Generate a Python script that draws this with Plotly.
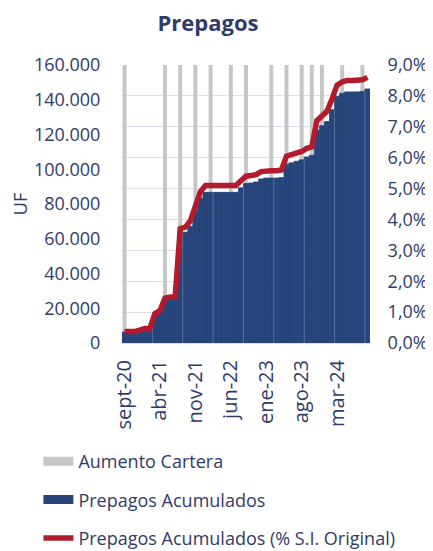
import plotly.graph_objects as go

# ---------------- data ----------------
months = [
    "sept-20", "oct-20", "nov-20", "dic-20", "ene-21", "feb-21", "mar-21", "abr-21",
    "may-21", "jun-21", "jul-21", "ago-21", "sept-21", "oct-21", "nov-21", "dic-21",
    "ene-22", "feb-22", "mar-22", "abr-22", "may-22", "jun-22", "jul-22", "ago-22",
    "sept-22", "oct-22", "nov-22", "dic-22", "ene-23", "feb-23", "mar-23", "abr-23",
    "may-23", "jun-23", "jul-23", "ago-23", "sept-23", "oct-23", "nov-23", "dic-23",
    "ene-24", "feb-24", "mar-24", "abr-24", "may-24", "jun-24", "jul-24", "ago-24",
    "sept-24",
]

# Prepagos Acumulados (UF)
prepagos_acum = [
    6300, 6300, 6300, 7100, 8000, 8000, 16200, 17900,
    24700, 25300, 25300, 62900, 63800, 67200, 76500, 83300,
    86700, 86700, 86700, 86700, 86700, 86700, 86700, 89300,
    91800, 92100, 92700, 94400, 94900, 94900, 94900, 95200,
    102900, 103700, 104600, 105400, 107100, 108000, 122400, 125000,
    127500, 134300, 142000, 143700, 144500, 144500, 144500, 144800,
    146200,
]

# Prepagos Acumulados (% S.I. Original)
prepagos_pct = [
    0.0037, 0.0037, 0.0037, 0.0042, 0.0047, 0.0047, 0.0095, 0.0105,
    0.0145, 0.0149, 0.0149, 0.0370, 0.0375, 0.0395, 0.0450, 0.0490,
    0.0510, 0.0510, 0.0510, 0.0510, 0.0510, 0.0510, 0.0510, 0.0525,
    0.0540, 0.0542, 0.0545, 0.0555, 0.0558, 0.0558, 0.0558, 0.0560,
    0.0605, 0.0610, 0.0615, 0.0620, 0.0630, 0.0635, 0.0720, 0.0735,
    0.0750, 0.0790, 0.0835, 0.0845, 0.0850, 0.0850, 0.0850, 0.0852,
    0.0860,
]

# Aumento Cartera (1 = month with portfolio increase)
aumento_cartera = [
    1, 0, 0, 0, 0, 0, 0, 0,
    1, 0, 0, 1, 0, 0, 1, 0,
    0, 1, 0, 0, 0, 1, 0, 0,
    1, 0, 0, 0, 0, 1, 0, 0,
    1, 0, 0, 1, 0, 1, 0, 1,
    0, 0, 0, 1, 0, 0, 0, 1,
    0,
]

x_ticks = months[::7]
uf_ticks = [0, 20000, 40000, 60000, 80000, 100000, 120000, 140000, 160000]
pct_ticks = [i / 100 for i in range(10)]
grid_ticks = [i / 9 for i in range(10)]  # gridlines matching the % axis steps

# ---------------- style ----------------
FONT = "Open Sans"
TXT = "#2f3b6b"
GRAY = "#c6c6c6"
BLUE = "#27457a"
RED = "#b31b2c"
GRID = "#dcdcef"

# page body adds an 8px offset; figure is sized/placed to compensate
W, H = 425, 543

fig = go.Figure()

fig.add_trace(go.Bar(
    x=months, y=aumento_cartera, yaxis="y", name="Aumento Cartera",
    marker=dict(color=GRAY, line=dict(width=0)), width=0.78,
    showlegend=False, hoverinfo="skip",
))
fig.add_trace(go.Bar(
    x=months, y=prepagos_acum, yaxis="y2", name="Prepagos Acumulados",
    marker=dict(color=BLUE, line=dict(width=0.8, color=BLUE)), width=1.0,
    showlegend=False,
))
fig.add_trace(go.Scatter(
    x=months, y=prepagos_pct, yaxis="y3", mode="lines",
    name="Prepagos Acumulados (% S.I. Original)",
    line=dict(color=RED, width=5.5), showlegend=False,
))

# legend entries
fig.add_trace(go.Scatter(x=[None], y=[None], yaxis="y3", mode="lines",
                         name="Aumento Cartera", line=dict(color=GRAY, width=9),
                         legendgroup="a"))
fig.add_trace(go.Scatter(x=[None], y=[None], yaxis="y3", mode="lines",
                         name="Prepagos Acumulados", line=dict(color=BLUE, width=9),
                         legendgroup="b"))
fig.add_trace(go.Scatter(x=[None], y=[None], yaxis="y3", mode="lines",
                         name="Prepagos Acumulados (% S.I. Original)",
                         line=dict(color=RED, width=5.5), legendgroup="c"))

# faint vertical separators inside the blue area (every 6 months)
shapes = []
for i in range(5, len(months) - 1, 6):
    top = min(prepagos_acum[i], prepagos_acum[i + 1])
    shapes.append(dict(type="line", xref="x", yref="y2",
                       x0=i + 0.5, x1=i + 0.5, y0=0, y1=top,
                       line=dict(color="rgba(255,255,255,0.22)", width=1),
                       layer="above"))

fig.update_layout(
    width=W, height=H,
    margin=dict(l=114, r=63, t=57, b=208, autoexpand=False),
    paper_bgcolor="white", plot_bgcolor="white",
    separators=",.",
    barmode="overlay",
    font=dict(family=FONT, color=TXT, size=18),
    title=dict(text="<b>Prepagos</b>", x=200 / W, xanchor="center",
               y=1 - 15 / H, yanchor="middle",
               font=dict(family=FONT, size=22, color=TXT)),
    xaxis=dict(type="category", tickangle=-90, tickmode="array",
               tickvals=x_ticks, ticktext=x_ticks, showgrid=False,
               showline=True, linecolor=GRID, linewidth=1,
               ticks="outside", ticklen=8, tickcolor="rgba(0,0,0,0)",
               tickfont=dict(size=20), range=[-0.5, len(months) - 0.5],
               automargin=False),
    yaxis=dict(range=[0, 1], tickmode="array", tickvals=grid_ticks,
               showticklabels=False, showgrid=True, gridcolor=GRID,
               gridwidth=1, zeroline=False, showline=False, ticks="",
               fixedrange=True, automargin=False),
    yaxis2=dict(overlaying="y", side="left", range=[0, 160000],
                tickmode="array", tickvals=uf_ticks, tickformat=",.0f",
                showgrid=False, zeroline=False, showline=False,
                ticks="outside", ticklen=17, tickcolor="rgba(0,0,0,0)",
                automargin=False,
                title=dict(text="UF", standoff=8, font=dict(size=18))),
    yaxis3=dict(overlaying="y", side="right", range=[0, 0.09],
                tickmode="array", tickvals=pct_ticks, tickformat=".1%",
                showgrid=False, zeroline=False, automargin=False,
                showline=False, ticks="outside", ticklen=13,
                tickcolor="rgba(0,0,0,0)"),
    legend=dict(orientation="v", x=-0.337, xanchor="left",
                yref="container", y=1 - 435 / H,
                yanchor="top", traceorder="grouped", tracegroupgap=12,
                font=dict(size=18, color=TXT), bgcolor="rgba(0,0,0,0)"),
    shapes=shapes,
)

fig.write_html("out.html")
